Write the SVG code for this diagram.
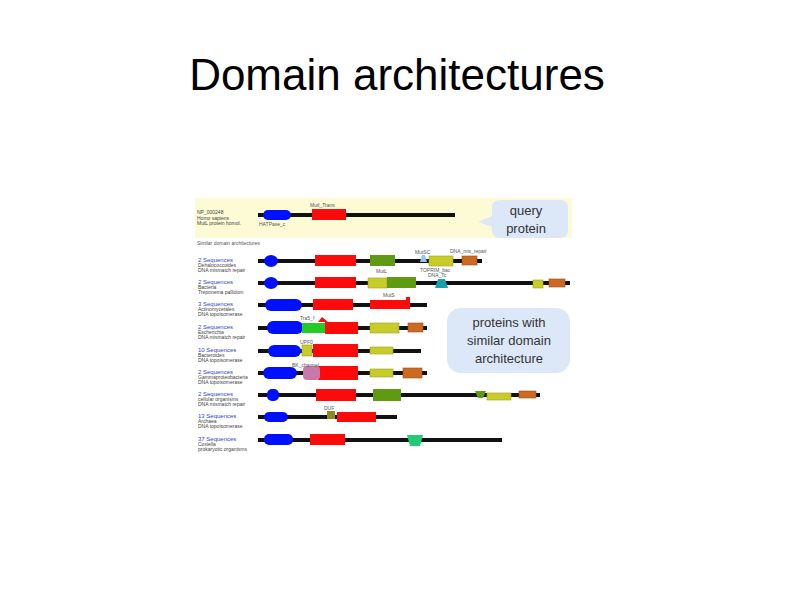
<svg xmlns="http://www.w3.org/2000/svg" width="794" height="595" viewBox="0 0 794 595">
<style>
.title{font-family:"Liberation Sans",Arial,sans-serif;font-size:44px;fill:#000}
.bb{stroke:#111;stroke-width:4;stroke-linecap:butt}
.lab{font-family:"Liberation Sans",Arial,sans-serif;font-size:5px;fill:#444}
.seq{font-family:"Liberation Sans",Arial,sans-serif;font-size:6px;fill:#3344cc}
.dl{font-family:"Liberation Sans",Arial,sans-serif;font-size:5px;fill:#555}
.call{font-family:"Liberation Sans",Arial,sans-serif;font-size:13px;fill:#333;text-anchor:middle}
.blue{fill:#0010ff}
.red{fill:#ff0a0a}
.grn{fill:#5f9a12}
.yel{fill:#c8cc2a;stroke:#a0a010;stroke-width:0.6}
.org{fill:#cc6a22;stroke:#a04a10;stroke-width:0.6}
.teal{fill:#1aa0b0}
.lb{fill:#99c4ee}
.bub{fill:#dce8f8}
</style>
<rect width="794" height="595" fill="#fff"/>
<text class="title" x="397" y="90" text-anchor="middle">Domain architectures</text>

<g id="query">
<rect x="195" y="198" width="377" height="40" fill="#fdfbd6"/>
<line class="bb" x1="258" y1="215" x2="455" y2="215"/>
<rect class="blue" x="263" y="210" width="28" height="10" rx="5"/>
<rect class="red" x="312" y="209" width="34" height="11"/>
<text class="dl" x="310" y="207">Mutl_Trans</text>
<text class="lab" x="197" y="214" fill="#333">NP_000248</text>
<text class="lab" x="197" y="220">Homo sapiens</text>
<text class="lab" x="197" y="225">MutL protein homol.</text>
<text class="dl" x="259" y="226" fill="#335">HATPase_c</text>
<path class="bub" d="M500,200 H560 Q568,200 568,208 V230 Q568,238 560,238 H500 Q492,238 492,230 V227 L478,222 L492,216 V208 Q492,200 500,200 Z"/>
<text class="call" x="526" y="215">query</text>
<text class="call" x="526" y="233">protein</text>
</g>

<text class="dl" x="197" y="245" font-size="6" fill="#666">Similar domain architectures</text>

<g id="row1">
<text class="seq" x="198" y="262">2 Sequences</text>
<text class="lab" x="198" y="267">Dehalococcoides</text>
<text class="lab" x="198" y="272">DNA mismatch repair</text>
<line class="bb" x1="258" y1="261" x2="482" y2="261"/>
<ellipse class="blue" cx="271" cy="261" rx="7" ry="6"/>
<rect class="red" x="315" y="255" width="41" height="11"/>
<rect class="grn" x="370" y="255" width="25" height="11"/>
<path class="lb" d="M420,262 L422,255 L425,255 L427,262 Z"/>
<rect class="yel" x="429" y="256" width="24" height="10"/>
<rect class="org" x="462" y="256" width="15" height="9"/>
<text class="dl" x="415" y="254">MutSC</text>
<text class="dl" x="450" y="253">DNA_mis_repair</text>
</g>

<g id="row2">
<text class="seq" x="198" y="284">2 Sequences</text>
<text class="lab" x="198" y="289">Bacteria</text>
<text class="lab" x="198" y="294">Treponema pallidum</text>
<line class="bb" x1="258" y1="283" x2="570" y2="283"/>
<ellipse class="blue" cx="271" cy="283" rx="7" ry="6"/>
<rect class="red" x="315" y="277" width="41" height="11"/>
<rect class="yel" x="368" y="278" width="19" height="10"/>
<rect class="grn" x="387" y="277" width="29" height="11"/>
<path class="teal" d="M435,288 L438,279 L445,279 L448,288 Z"/>
<rect class="yel" x="533" y="280" width="10" height="8"/>
<rect class="org" x="549" y="279" width="16" height="8"/>
<text class="dl" x="376" y="273">MutL</text>
<text class="dl" x="420" y="272">TOPRIM_bac</text>
<text class="dl" x="428" y="277">DNA_Tc</text>
</g>

<g id="row3">
<text class="seq" x="198" y="306">3 Sequences</text>
<text class="lab" x="198" y="311">Actinomycetales</text>
<text class="lab" x="198" y="316">DNA topoisomerase</text>
<line class="bb" x1="258" y1="305" x2="427" y2="305"/>
<rect class="blue" x="265" y="299" width="37" height="12" rx="6"/>
<rect class="red" x="313" y="299" width="40" height="11"/>
<path class="red" d="M370,300 H406 V297 H410 V309 H370 Z"/>
<text class="dl" x="383" y="297">MutS</text>
</g>

<g id="row4">
<text class="seq" x="198" y="329">2 Sequences</text>
<text class="lab" x="198" y="334">Escherichia</text>
<text class="lab" x="198" y="339">DNA mismatch repair</text>
<line class="bb" x1="258" y1="328" x2="427" y2="328"/>
<rect class="blue" x="267" y="321" width="36" height="13" rx="6"/>
<rect fill="#22cc22" x="302" y="323" width="24" height="10"/>
<rect class="red" x="325" y="322" width="33" height="12"/>
<path class="red" d="M318,322 L322,317 L328,322 Z"/>
<rect class="yel" x="370" y="323" width="29" height="10"/>
<rect class="org" x="408" y="323" width="15" height="9"/>
<text class="dl" x="300" y="320">Tra5_f</text>
</g>

<g id="row5">
<text class="seq" x="198" y="352">10 Sequences</text>
<text class="lab" x="198" y="357">Bacteroides</text>
<text class="lab" x="198" y="362">DNA topoisomerase</text>
<line class="bb" x1="258" y1="351" x2="421" y2="351"/>
<rect class="blue" x="268" y="345" width="33" height="12" rx="6"/>
<rect class="yel" x="302" y="345" width="10" height="11"/>
<rect class="red" x="313" y="344" width="45" height="13"/>
<rect class="yel" x="370" y="347" width="23" height="7"/>
<text class="dl" x="300" y="344">UPF0</text>
</g>

<g id="row6">
<text class="seq" x="198" y="374">2 Sequences</text>
<text class="lab" x="198" y="379">Gammaproteobacteria</text>
<text class="lab" x="198" y="384">DNA topoisomerase</text>
<line class="bb" x1="258" y1="373" x2="427" y2="373"/>
<rect class="blue" x="263" y="367" width="34" height="12" rx="6"/>
<rect class="red" x="318" y="366" width="40" height="14"/>
<rect fill="#cc77aa" x="303" y="366" width="17" height="14" rx="4"/>
<rect class="yel" x="370" y="369" width="23" height="8"/>
<rect class="org" x="403" y="368" width="19" height="10"/>
<text class="dl" x="292" y="367">BK_channel</text>
</g>

<g id="row7">
<text class="seq" x="198" y="396">2 Sequences</text>
<text class="lab" x="198" y="401">cellular organisms</text>
<text class="lab" x="198" y="406">DNA mismatch repair</text>
<line class="bb" x1="258" y1="395" x2="540" y2="395"/>
<rect class="blue" x="267" y="389" width="12" height="12" rx="5"/>
<rect class="red" x="316" y="389" width="40" height="12"/>
<rect class="grn" x="373" y="389" width="28" height="12"/>
<path class="grn" d="M475,391 H486 L483,398 H478 Z"/>
<rect class="yel" x="487" y="393" width="24" height="7"/>
<rect class="org" x="519" y="391" width="17" height="7"/>
</g>

<g id="row8">
<text class="seq" x="198" y="418">13 Sequences</text>
<text class="lab" x="198" y="423">Archaea</text>
<text class="lab" x="198" y="428">DNA topoisomerase</text>
<line class="bb" x1="258" y1="417" x2="397" y2="417"/>
<rect class="blue" x="264" y="412" width="24" height="10" rx="5"/>
<rect fill="#8a8a20" x="327" y="411" width="8" height="8"/>
<rect class="red" x="337" y="412" width="39" height="10"/>
<text class="dl" x="324" y="410">DUF</text>
</g>

<g id="row9">
<text class="seq" x="198" y="441">37 Sequences</text>
<text class="lab" x="198" y="446">Coxiella</text>
<text class="lab" x="198" y="451">prokaryotic organisms</text>
<line class="bb" x1="258" y1="440" x2="502" y2="440" stroke="#333"/>
<rect class="blue" x="264" y="434" width="29" height="11" rx="5"/>
<rect class="red" x="310" y="434" width="35" height="11"/>
<path fill="#22cc77" d="M407,435 H423 L420,446 H410 Z"/>
</g>

<g id="callout2">
<rect class="bub" x="447" y="308" width="123" height="65" rx="14"/>
<text class="call" x="509" y="327">proteins with</text>
<text class="call" x="509" y="345">similar domain</text>
<text class="call" x="509" y="363">architecture</text>
</g>
</svg>
